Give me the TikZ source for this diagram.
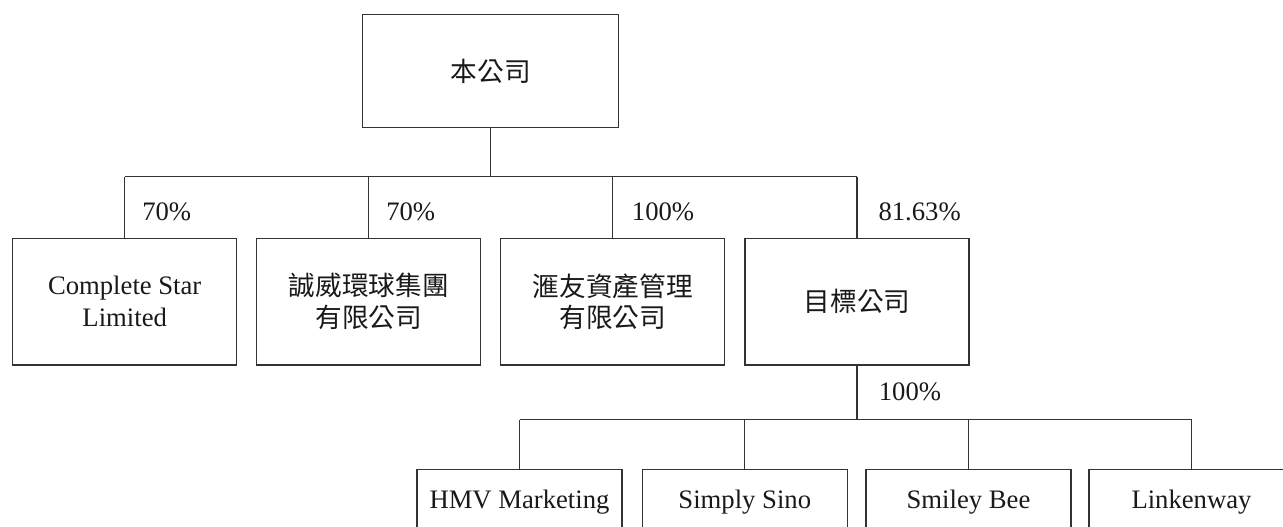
\documentclass[tikz,border=0pt]{standalone}
\usepackage{fontspec}
\setmainfont{Liberation Serif}
\newfontfamily\cjk{Noto Sans CJK TC}
\begin{document}
\begin{tikzpicture}[x=0.75pt,y=-0.75pt,
  line/.style={draw=black!80,line width=0.9pt},
  txt/.style={font=\fontsize{20}{23.8}\selectfont,text=black!90,align=center,inner sep=0pt},
  midbox/.style={line,txt,minimum width=168pt,minimum height=95pt},
  topbox/.style={line,txt,minimum width=192pt,minimum height=84.75pt},
  lowbox/.style={line,txt,minimum width=153.75pt,minimum height=48.75pt},
  pct/.style={txt,anchor=west}]
\useasboundingbox (0,0) rectangle (1283,526);
\clip (0,0) rectangle (1283,526);
\node[topbox] (top) at (490.7,71.2) {\cjk 本公司};
\node[midbox] (c1) at (124.7,301.7) {Complete Star\\Limited};
\node[midbox] (c2) at (368.7,301.7) {\cjk 誠威環球集團\\\cjk 有限公司};
\node[midbox] (c3) at (612.8,301.7) {\cjk 滙友資產管理\\\cjk 有限公司};
\node[midbox] (c4) at (857,301.7) {\cjk 目標公司};
\node[lowbox] (d1) at (519.5,501.8) {HMV Marketing};
\node[lowbox] (d2) at (744.8,501.8) {Simply Sino};
\node[lowbox] (d3) at (968.5,501.8) {Smiley Bee};
\node[lowbox] (d4) at (1191.5,501.8) {Linkenway};
\coordinate (bus) at (490.5,176.6);
\coordinate (bus2) at (857,419.5);
% top connectors
\draw[line] (top.south) -- (top.south |- bus);
\draw[line] (c1.north |- bus) -- (c4.north |- bus);
\foreach \n in {c1,c2,c3,c4} \draw[line] (\n.north) -- (\n.north |- bus);
% lower connectors
\draw[line] (c4.south) -- (bus2);
\draw[line] (d1.north |- bus2) -- (d4.north |- bus2);
\foreach \n in {d1,d2,d3,d4} \draw[line] (\n.north) -- (\n.north |- bus2);
% labels
\node[pct] (p1) at (142,211.7) {70\%};
\node[pct] (p2) at (386,211.7) {70\%};
\node[pct] (p3) at (631.7,211.7) {100\%};
\node[pct] (p4) at (878.3,211.7) {81.63\%};
\node[pct] (p5) at (878.6,391.7) {100\%};
\end{tikzpicture}
\end{document}
